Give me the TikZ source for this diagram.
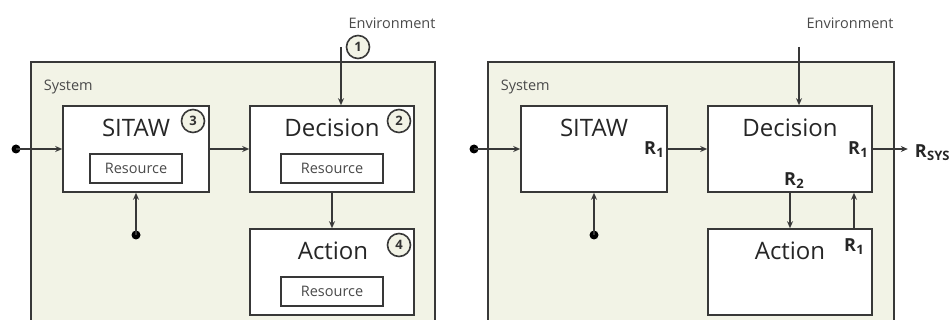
\documentclass[tikz,border=0pt]{standalone}
\usepackage{fontspec}
\setmainfont{Open Sans}
\usetikzlibrary{arrows.meta}
\definecolor{sysfill}{HTML}{F2F3E6}
\definecolor{linegray}{HTML}{383838}
\definecolor{textgray}{HTML}{4A4A4A}
\newcommand{\rlab}[1]{\textbf{R\kern0.5pt\raisebox{-0.3ex}{\fontsize{13}{13}\selectfont\bfseries #1}}}

\begin{document}
\begin{tikzpicture}[x = 1pt, y = -1pt, line width = 1.6pt, draw = linegray,
    every node/.style = {inner sep = 0pt},
    sysbox/.style = {draw = linegray, fill = sysfill},
    block/.style = {shape = rectangle, draw = linegray, fill = white, minimum height = 86pt},
    resbox/.style = {shape = rectangle, draw = linegray, fill = white, minimum height = 29pt,
        font = \fontsize{14.5}{16}\selectfont, text = textgray},
    title/.style = {font = \fontsize{24}{26}\selectfont, text = black!85},
    small/.style = {font = \fontsize{14.5}{16}\selectfont, text = textgray},
    num/.style = {shape = circle, draw = linegray, fill = sysfill, line width = 1.6pt,
        minimum size = 23pt, font = \fontsize{13}{13}\selectfont\bfseries, text = black!80},
    dot/.style = {shape = circle, fill = black, minimum size = 9pt},
    rl/.style = {font = \fontsize{18}{18}\selectfont, text = black!85},
    arr/.style = {-{Stealth[length = 7pt, width = 6pt]}}]
    \useasboundingbox (0,0) rectangle (952,320);

    % left panel
    \path[sysbox] (31,62) rectangle (435,330);
    \node[small, anchor = west] (sys1) at (43,87) {System};
    \node[small] (env1) at (392,23) {Environment};
    \node[block, minimum width = 146pt] (sit1) at (136,149) {};
    \node[block, minimum width = 164pt] (dec1) at (332,149) {};
    \node[block, minimum width = 164pt] (act1) at (332,272) {};
    \node[title] at (136,128) {SITAW};
    \node[title] at (332,128) {Decision};
    \node[title] at (333,251) {Action};
    \node[resbox, minimum width = 92pt] (res1) at (136,168.5) {Resource};
    \node[resbox, minimum width = 102pt] (res2) at (332,168.5) {Resource};
    \node[resbox, minimum width = 102pt] (res3) at (332,291.5) {Resource};
    \node[num] (n1) at (358,47) {1};
    \node[num] (n2) at (399,121) {2};
    \node[num] (n3) at (193,121) {3};
    \node[num] (n4) at (399,245) {4};
    \node[dot] (in1) at (16,149) {};
    \node[dot] (bot1) at (136,235) {};
    \coordinate (top1) at (341,47);

    \draw[arr] (in1.center) -- (sit1.west);
    \draw[arr] (sit1) -- (dec1);
    \draw[arr] (bot1.center) -- (sit1);
    \draw[arr] (dec1) -- (act1);
    \draw[arr] (top1) -- (top1 |- dec1.north);

    % right panel
    \path[sysbox] (488,62) rectangle (894,330);
    \node[small, anchor = west] (sys2) at (500,87) {System};
    \node[small] (env2) at (850,23) {Environment};
    \node[block, minimum width = 146pt] (sit2) at (594,149) {};
    \node[block, minimum width = 164pt] (dec2) at (790,149) {};
    \node[block, minimum width = 164pt] (act2) at (790,272) {};
    \node[title] at (594,128) {SITAW};
    \node[title] at (790,128) {Decision};
    \node[title] at (790,251) {Action};
    \node[rl] (rs1) at (654,150) {\rlab{1}};
    \node[rl] (rd1) at (858,150) {\rlab{1}};
    \node[rl] (rd2) at (794,181) {\rlab{2}};
    \node[rl] (ra1) at (854,247) {\rlab{1}};
    \node[rl, anchor = west] (rsys) at (914,153) {\rlab{SYS}};
    \node[dot] (in2) at (474,149) {};
    \node[dot] (bot2) at (594,235) {};
    \coordinate (top2) at (799,47);

    \draw[arr] (in2.center) -- (sit2.west);
    \draw[arr] (sit2) -- (dec2);
    \draw[arr] (bot2.center) -- (sit2);
    \draw[arr] (dec2) -- (act2);
    \draw[arr] (act2.north -| ra1) -- (dec2.south -| ra1);
    \draw[arr] (dec2.east) -- ++(35,0);
    \draw[arr] (top2) -- (top2 |- dec2.north);
\end{tikzpicture}
\end{document}
